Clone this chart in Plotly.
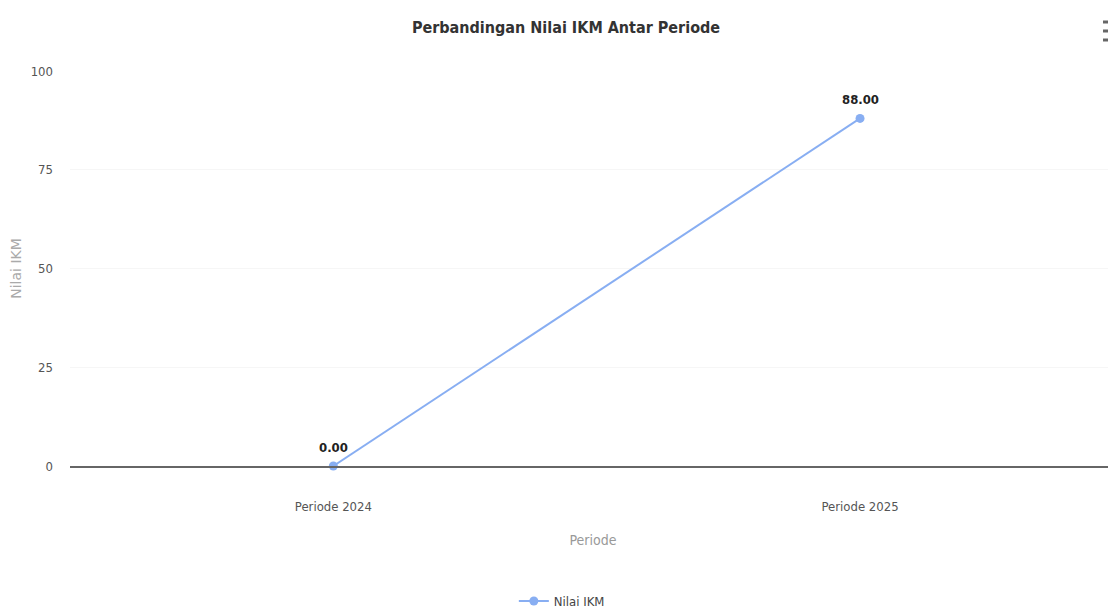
import plotly.graph_objects as go

categories = ["Periode 2024", "Periode 2025"]
values = [0.00, 88.00]
y_ticks = [0, 25, 50, 75, 100]

FONT = "DejaVu Sans Condensed, sans-serif"

# page body has an 8px margin, so figure coordinates = reference - 8
W, H = 1108, 605
L, T, B = 62, 63, 147
PH = H - T - B  # 395

fig = go.Figure()
fig.add_trace(go.Scatter(
    x=[0, 1], y=values,
    mode="lines+markers",
    name="Nilai IKM",
    line=dict(color="#88aef2", width=2),
    marker=dict(color="#88aef2", size=9, symbol="circle"),
    cliponaxis=False,
))

for i, v in enumerate(values):
    fig.add_annotation(x=i, y=v, text=f"<b>{v:.2f}</b>", showarrow=False,
                       yshift=19, font=dict(family=FONT, size=13, color="#222222"))

fig.update_layout(
    width=W, height=H,
    margin=dict(l=L, r=0, t=T, b=B, autoexpand=False),
    paper_bgcolor="white", plot_bgcolor="white",
    title=dict(text="<b>Perbandingan Nilai IKM Antar Periode</b>",
               x=558/W, xanchor="center", y=1-19/H, yanchor="middle",
               font=dict(family=FONT, size=16, color="#333333")),
    font=dict(family=FONT, color="#666666"),
    xaxis=dict(
        tickmode="array", tickvals=[0, 1], ticktext=categories,
        range=[-0.5, 1.486], showgrid=False, zeroline=False,
        showline=True, linecolor="#666666", linewidth=2,
        ticks="", tickfont=dict(family=FONT, size=13, color="#555555"),
        ticklabelstandoff=27,
        title=dict(text="Periode", font=dict(family=FONT, size=14, color="#999999"), standoff=23),
    ),
    yaxis=dict(
        range=[0, 100], tickvals=y_ticks, showgrid=True, gridcolor="#f6f6f6",
        zeroline=False, showline=False, ticks="",
        tickfont=dict(family=FONT, size=13, color="#555555"),
        ticklabelstandoff=16,
        title=dict(text="Nilai IKM", font=dict(family="DejaVu Sans, sans-serif", size=14, color="#aaaaaa"), standoff=10),
    ),
    showlegend=True,
    legend=dict(orientation="h", x=(558-37)/W, xanchor="center", y=-(593-(T+PH))/PH, yanchor="middle",
                font=dict(family=FONT, size=13, color="#444444")),
)

# export-menu (hamburger) icon at top right
for yy in (14, 23, 32):
    fig.add_shape(type="line", xref="paper", yref="paper",
                  x0=(1095-L)/(W-L), x1=(1108-L)/(W-L),
                  y0=(T+PH-yy)/PH, y1=(T+PH-yy)/PH,
                  line=dict(color="#666666", width=3))

fig.write_html("out.html")
